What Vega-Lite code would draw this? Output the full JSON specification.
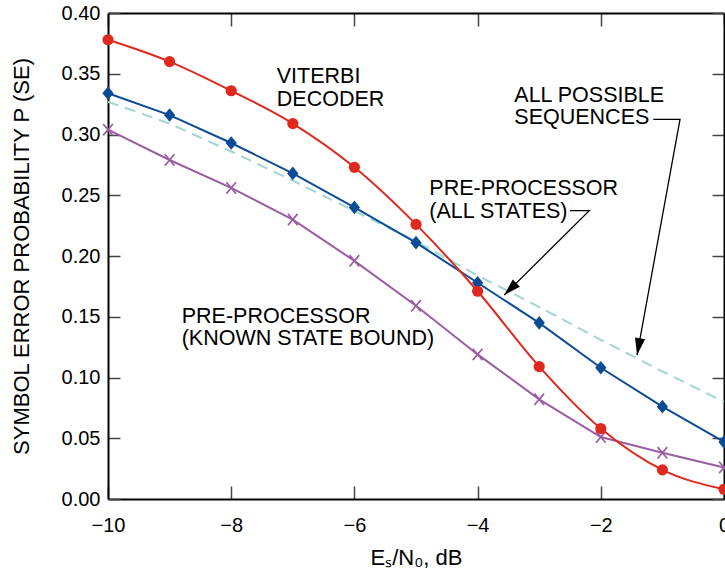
{
  "$schema": "https://vega.github.io/schema/vega-lite/v6.json",
  "width": 616,
  "height": 486,
  "autosize": {"type": "none"},
  "padding": {"left": 108, "top": 13, "right": 1, "bottom": 70},
  "background": "white",
  "config": {"view": {"stroke": null}, "axis": {"grid": false}},
  "datasets": {
    "viterbi": [
      {"x": -10, "y": 0.378}, {"x": -9, "y": 0.360}, {"x": -8, "y": 0.336}, {"x": -7, "y": 0.309},
      {"x": -6, "y": 0.273}, {"x": -5, "y": 0.226}, {"x": -4, "y": 0.171}, {"x": -3, "y": 0.109},
      {"x": -2, "y": 0.058}, {"x": -1, "y": 0.024}, {"x": 0, "y": 0.008}
    ],
    "allstates": [
      {"x": -10, "y": 0.334}, {"x": -9, "y": 0.316}, {"x": -8, "y": 0.293}, {"x": -7, "y": 0.268},
      {"x": -6, "y": 0.240}, {"x": -5, "y": 0.211}, {"x": -4, "y": 0.178}, {"x": -3, "y": 0.145},
      {"x": -2, "y": 0.108}, {"x": -1, "y": 0.076}, {"x": 0, "y": 0.047}
    ],
    "known": [
      {"x": -10, "y": 0.304}, {"x": -9, "y": 0.279}, {"x": -8, "y": 0.256}, {"x": -7, "y": 0.230},
      {"x": -6, "y": 0.196}, {"x": -5, "y": 0.159}, {"x": -4, "y": 0.119}, {"x": -3, "y": 0.082},
      {"x": -2, "y": 0.051}, {"x": -1, "y": 0.038}, {"x": 0, "y": 0.026}
    ],
    "allseq": [
      {"x": -10, "y": 0.327}, {"x": -9, "y": 0.309}, {"x": -8, "y": 0.286}, {"x": -7, "y": 0.262},
      {"x": -6, "y": 0.237}, {"x": -5, "y": 0.212}, {"x": -4, "y": 0.184}, {"x": -3, "y": 0.158},
      {"x": -2, "y": 0.131}, {"x": -1, "y": 0.105}, {"x": 0, "y": 0.080}
    ],
    "labels": [
      {"x": -7.26, "y": 0.342, "label": "VITERBI"},
      {"x": -7.26, "y": 0.3235, "label": "DECODER"},
      {"x": -3.404, "y": 0.3265, "label": "ALL POSSIBLE"},
      {"x": -3.404, "y": 0.3084, "label": "SEQUENCES"},
      {"x": -4.784, "y": 0.2502, "label": "PRE-PROCESSOR"},
      {"x": -4.784, "y": 0.231, "label": "(ALL STATES)"},
      {"x": -8.804, "y": 0.1451, "label": "PRE-PROCESSOR"},
      {"x": -8.804, "y": 0.1267, "label": "(KNOWN STATE BOUND)"}
    ],
    "leaders": [
      {"id": "a", "seq": 1, "x": -1.148, "y": 0.3125},
      {"id": "a", "seq": 2, "x": -0.714, "y": 0.3125},
      {"id": "a", "seq": 3, "x": -1.412, "y": 0.1185},
      {"id": "b", "seq": 1, "x": -2.5, "y": 0.2373},
      {"id": "b", "seq": 2, "x": -2.187, "y": 0.2373},
      {"id": "b", "seq": 3, "x": -3.567, "y": 0.1679}
    ],
    "tipA": [{"x": -1.412, "y": 0.1185}],
    "tipB": [{"x": -3.567, "y": 0.1679}]
  },
  "resolve": {"axis": {"x": "independent", "y": "independent"}},
  "layer": [
    {
      "data": {"name": "allseq"},
      "mark": {"type": "line", "color": "#9fd6d3", "strokeWidth": 2, "strokeDash": [11, 7]},
      "encoding": {
        "x": {"field": "x", "type": "quantitative",
          "scale": {"domain": [-10, 0], "nice": false, "zero": false},
          "axis": {"orient": "bottom", "values": [-10, -8, -6, -4, -2, 0], "format": "d",
            "tickSize": -13, "tickWidth": 1.5, "tickColor": "#444",
            "domainColor": "black", "domainWidth": 2,
            "labelFont": "Liberation Sans", "labelFontSize": 20, "labelColor": "black",
            "labelPadding": 29, "labelFlush": false, "labelOverlap": false,
            "title": "Eₛ/N₀, dB", "titleFont": "Liberation Sans", "titleFontSize": 22,
            "titleFontWeight": "normal", "titleColor": "black", "titlePadding": 12}},
        "y": {"field": "y", "type": "quantitative",
          "scale": {"domain": [0, 0.4], "nice": false, "zero": false},
          "axis": {"orient": "left", "values": [0, 0.05, 0.1, 0.15, 0.2, 0.25, 0.3, 0.35, 0.4], "format": ".2f",
            "tickSize": -12, "tickWidth": 1.5, "tickColor": "#444",
            "domainColor": "black", "domainWidth": 2,
            "labelFont": "Liberation Sans", "labelFontSize": 20, "labelColor": "black",
            "labelPadding": 20, "labelFlush": false, "labelOverlap": false,
            "title": "SYMBOL ERROR PROBABILITY P (SE)", "titleFont": "Liberation Sans", "titleFontSize": 22,
            "titleFontWeight": "normal", "titleColor": "black", "titlePadding": 28}}
      }
    },
    {
      "data": {"name": "leaders"},
      "mark": {"type": "line", "color": "black", "strokeWidth": 1.3},
      "encoding": {
        "x": {"field": "x", "type": "quantitative",
          "axis": {"orient": "top", "values": [-10, -8, -6, -4, -2, 0], "labels": false, "title": null,
            "tickSize": -13, "tickWidth": 1.5, "tickColor": "#444", "domainColor": "black", "domainWidth": 2}},
        "y": {"field": "y", "type": "quantitative",
          "axis": {"orient": "right", "values": [0, 0.05, 0.1, 0.15, 0.2, 0.25, 0.3, 0.35, 0.4], "labels": false, "title": null,
            "tickSize": -12, "tickWidth": 1.5, "tickColor": "#444", "domainColor": "black", "domainWidth": 2}},
        "detail": {"field": "id"},
        "order": {"field": "seq"}
      }
    },
    {
      "data": {"name": "known"},
      "mark": {"type": "line", "color": "#9b5ca4", "strokeWidth": 2,
        "point": {"shape": "M-0.85,-1L0.85,1M-0.85,1L0.85,-1", "filled": false, "size": 130, "stroke": "#9b5ca4", "strokeWidth": 1.7}},
      "encoding": {
        "x": {"field": "x", "type": "quantitative", "axis": null},
        "y": {"field": "y", "type": "quantitative", "axis": null}
      }
    },
    {
      "data": {"name": "allstates"},
      "mark": {"type": "line", "color": "#0b4c97", "strokeWidth": 2,
        "point": {"shape": "M0,-1.15L0.95,0L0,1.15L-0.95,0Z", "filled": true, "size": 140, "color": "#0b4c97", "opacity": 1}},
      "encoding": {
        "x": {"field": "x", "type": "quantitative", "axis": null},
        "y": {"field": "y", "type": "quantitative", "axis": null}
      }
    },
    {
      "data": {"name": "viterbi"},
      "mark": {"type": "line", "color": "#e0291e", "strokeWidth": 2, "interpolate": "monotone",
        "point": {"shape": "circle", "filled": true, "size": 125, "color": "#e0291e", "opacity": 1}},
      "encoding": {
        "x": {"field": "x", "type": "quantitative", "axis": null},
        "y": {"field": "y", "type": "quantitative", "axis": null}
      }
    },
    {
      "data": {"name": "labels"},
      "mark": {"type": "text", "align": "left", "baseline": "alphabetic", "font": "Liberation Sans", "fontSize": 21.5, "color": "black"},
      "encoding": {
        "x": {"field": "x", "type": "quantitative", "axis": null},
        "y": {"field": "y", "type": "quantitative", "axis": null},
        "text": {"field": "label"}
      }
    },
    {
      "data": {"name": "tipA"},
      "mark": {"type": "point", "shape": "M0,0L-0.3,-1L0.3,-1Z", "filled": true, "size": 1156, "color": "black", "opacity": 1, "angle": 10.3},
      "encoding": {
        "x": {"field": "x", "type": "quantitative", "axis": null},
        "y": {"field": "y", "type": "quantitative", "axis": null}
      }
    },
    {
      "data": {"name": "tipB"},
      "mark": {"type": "point", "shape": "M0,0L-0.3,-1L0.3,-1Z", "filled": true, "size": 1156, "color": "black", "opacity": 1, "angle": 45.2},
      "encoding": {
        "x": {"field": "x", "type": "quantitative", "axis": null},
        "y": {"field": "y", "type": "quantitative", "axis": null}
      }
    }
  ]
}
